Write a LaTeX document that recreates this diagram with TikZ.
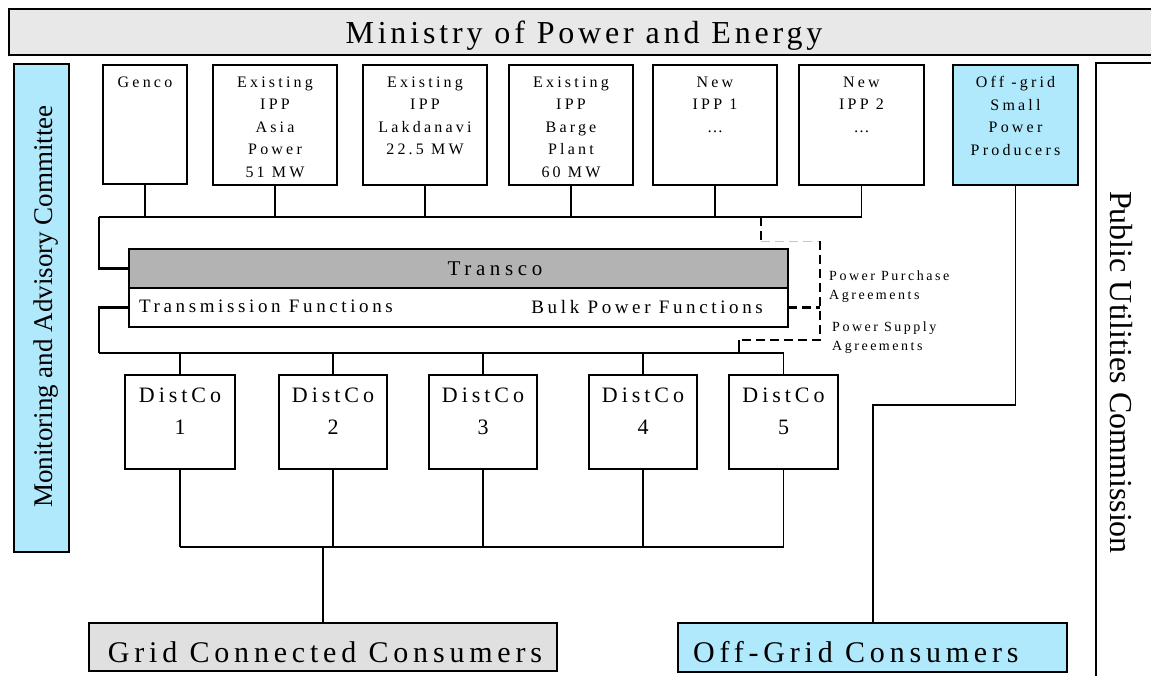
\documentclass[tikz,border=0pt]{standalone}
\usepackage{fontspec}
\setmainfont{Liberation Serif}
\newfontfamily\trkA{Liberation Serif}[LetterSpace=12]
\newfontfamily\trkB{Liberation Serif}[LetterSpace=18]
\newfontfamily\trkM{Liberation Serif}[LetterSpace=19]
\newfontfamily\trkT{Liberation Serif}[LetterSpace=22]
\newfontfamily\trkC{Liberation Serif}[LetterSpace=20]
\newfontfamily\trkD{Liberation Serif}[LetterSpace=16]
\definecolor{lblue}{RGB}{176,232,252}
\definecolor{mgray}{RGB}{232,232,232}
\definecolor{tgray}{RGB}{179,179,179}
\definecolor{ggray}{RGB}{224,224,224}
\tikzset{
  box/.style={draw=black, line width=1.3pt, inner sep=0pt, outer sep=0pt, anchor=north west},
  drop/.style={line width=1.1pt},
  bus/.style={line width=1.6pt},
  brace/.style={line width=2.2pt},
  pa/.style={line width=2.5pt, dash pattern=on 9pt off 5pt},
  pagray/.style={line width=1pt, draw=gray!45, dash pattern=on 9pt off 5pt},
  toptxt/.style={anchor=north, inner sep=0pt, align=center, font={\trkC\fontsize{16}{22.5}\selectfont}},
  dctxt/.style={anchor=north, inner sep=0pt, align=center, font={\trkB\fontsize{22}{32}\selectfont}},
  midtxt/.style={inner sep=0pt, font={\trkM\fontsize{19}{23}\selectfont}},
  agtxt/.style={anchor=west, inner sep=0pt, align=left, font={\trkB\fontsize{14}{19}\selectfont}},
  contxt/.style={inner sep=0pt, font={\trkD\fontsize{30}{36}\selectfont}},
}
\newcommand\mkbox[6]{\node[box,minimum width=#4pt,minimum height=#5pt,#6] (#1) at (#2,#3) {};}
\begin{document}
\begin{tikzpicture}[x=1pt,y=-1pt]
\useasboundingbox (0,0) rectangle (1151,675);
\clip (0,0) rectangle (1151,675);
\fill[white] (0,0) rectangle (1151,675);

% frame boxes
\mkbox{min}{9}{9}{1165}{46}{fill=mgray}
\node[anchor=base, inner sep=0pt, font={\trkA\fontsize{32}{38}\selectfont}] (tmin) at (584,43) {Ministry of Power and Energy};

\mkbox{mac}{14}{64}{55}{488}{fill=lblue}
\draw[line width=2.2pt] (mac.north west) -- (mac.south west);
\node[rotate=90, anchor=base, inner sep=0pt, font={\fontsize{27}{32}\selectfont}] (tmac) at (52,306.5) {Monitoring and Advisory Committee};

\mkbox{puc}{1096}{63}{90}{650}{}
\node[rotate=-90, anchor=base, inner sep=0pt, font={\fontsize{32}{38}\selectfont}] (tpuc) at (1110,372.5) {Public Utilities Commission};

% generators
\mkbox{genco}{103}{65}{84}{119}{}
\mkbox{asia}{213}{65}{124}{120}{}
\mkbox{lak}{363}{65}{124}{120}{}
\mkbox{barge}{509}{65}{124}{120}{}
\mkbox{ipp1}{653}{65}{124}{120}{}
\mkbox{ipp2}{799}{65}{125}{120}{}
\mkbox{offg}{953}{65}{125}{120}{fill=lblue}
\node[toptxt] (tgenco) at ([yshift=-11.5pt]genco.north) {Genco};
\node[toptxt] (tasia) at ([yshift=-11.5pt]asia.north) {Existing\\IPP\\Asia\\Power\\51 MW};
\node[toptxt] (tlak) at ([yshift=-11.5pt]lak.north) {Existing\\IPP\\Lakdanavi\\22.5 MW};
\node[toptxt] (tbarge) at ([yshift=-11.5pt]barge.north) {Existing\\IPP\\Barge\\Plant\\60 MW};
\node[toptxt] (tipp1) at ([yshift=-11.5pt]ipp1.north) {New\\IPP 1\\…};
\node[toptxt] (tipp2) at ([yshift=-11.5pt]ipp2.north) {New\\IPP 2\\…};
\node[toptxt] (toffg) at ([yshift=-11.5pt]offg.north) {Off -grid\\Small\\Power\\Producers};

% Transco
\mkbox{tup}{129}{249}{659}{39}{fill=tgray}
\mkbox{tlow}{129}{288}{659}{39}{fill=white}
\node[inner sep=0pt, font={\trkT\fontsize{21}{25}\selectfont}] (ttr) at (495,268.5) {Transco};
\node[midtxt, anchor=west] (ttf) at (139,306) {Transmission Functions};
\node[midtxt, anchor=east] (tbp) at (763,307) {Bulk Power Functions};

% DistCos
\mkbox{dc1}{125}{375}{110}{94}{}
\mkbox{dc2}{279}{375}{108}{94}{}
\mkbox{dc3}{429}{375}{108}{94}{}
\mkbox{dc4}{589}{375}{108}{94}{}
\mkbox{dc5}{729}{375}{109}{94}{}
\foreach \n/\k in {dc1/1,dc2/2,dc3/3,dc4/4,dc5/5}
  \node[dctxt] (t\n) at ([yshift=-12.5pt]\n.north) {DistCo\\\k};

% consumers
\mkbox{grid}{89}{623}{468}{48}{fill=ggray}
\mkbox{offc}{678}{623}{389}{49}{fill=lblue}
\node[contxt, anchor=base] (tgrid) at (325,662) {Grid Connected Consumers};
\node[contxt, anchor=base west] (toffc) at (693,662) {Off-Grid Consumers};

% upper bus
\coordinate (ub) at (99,217);
\foreach \n in {genco,asia,lak,barge,ipp1,ipp2}
  \draw[drop] (\n.south) -- (\n.south |- ub);
\draw[drop] (ub) -- (ipp2.south |- ub);
\draw[brace] (tup.west) -| (ub);

% lower bus
\coordinate (lb) at (99,353);
\draw[brace] (tlow.west) -| (lb);
\draw[bus] (lb) -- (dc5.north |- lb);
\foreach \n in {dc1,dc2,dc3,dc4,dc5}
  \draw[drop] (\n.north) -- (\n.north |- lb);

% consumer bus
\coordinate (gb) at (323,547);
\foreach \n in {dc1,dc2,dc3,dc4,dc5}
  \draw[drop] (\n.south) -- (\n.south |- gb);
\draw[drop] (dc1.south |- gb) -- (dc5.south |- gb);
\draw[bus] (gb) -- (dc4.south |- gb);
\draw[brace] (gb) -- (grid.north -| gb);

% off-grid
\coordinate (ob) at (873,405);
\draw[drop] (offg.south) |- (ob) -- (ob |- offc.north);

% agreements (dashed)
\coordinate (d1) at (761,217);
\coordinate (d2) at (761,241);
\coordinate (d3) at (820,241);
\coordinate (d4) at (820,340);
\coordinate (d5) at (739,340);
\coordinate (d6) at (739,353);
\draw[pa] (d1) -- (d2);
\draw[pagray] (d2) -- (d3);
\draw[pa] (d3) -- (d4) -- (d5);
\draw[line width=2.5pt] (d5) -- (d6);
\draw[pa] (tlow.east) -- (tlow.east -| d3);
\node[agtxt] (lppa) at (829,286.8) {Power Purchase\\Agreements};
\node[agtxt] (lpsa) at (832,337.8) {Power Supply\\Agreements};
\end{tikzpicture}
\end{document}
